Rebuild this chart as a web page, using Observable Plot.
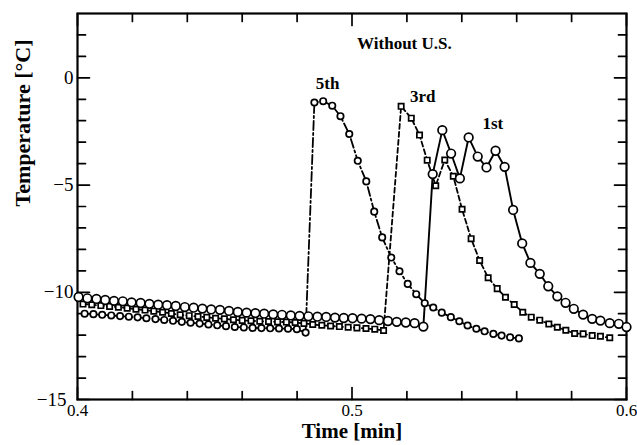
<!DOCTYPE html>
<html><head><meta charset="utf-8">
<script src="https://cdn.jsdelivr.net/npm/d3@7"></script>
<script src="https://cdn.jsdelivr.net/npm/@observablehq/plot@0.6"></script>
<style>body{margin:0;background:#fff}</style>
</head><body><div id="chart"></div>
<script>
// ---- data (time in min, temperature in °C) ----
const t1st = [0.4004,0.4036,0.4069,0.4101,0.4133,0.4165,0.4197,0.4230,0.4262,0.4294,0.4326,0.4358,0.4391,0.4423,0.4455,0.4487,0.4519,0.4552,0.4584,0.4616,0.4648,0.4680,0.4713,0.4745,0.4777,0.4809,0.4841,0.4874,0.4906,0.4938,0.4970,0.5002,0.5035,0.5067,0.5099,0.5131,0.5163,0.5196,0.5228,0.5260,
  0.5294,0.5329,0.5361,0.5393,0.5425,0.5458,0.5490,0.5523,0.5556,0.5587,0.5620,0.5650,0.5684,0.5715,0.5748,0.5778,0.5808,0.5842,0.5875,0.5905,0.5939,0.5972,0.6000];
const T1st = [-10.22,-10.28,-10.31,-10.36,-10.40,-10.42,-10.47,-10.50,-10.54,-10.58,-10.60,-10.64,-10.69,-10.72,-10.76,-10.80,-10.82,-10.87,-10.92,-10.95,-10.97,-11.00,-11.03,-11.05,-11.08,-11.10,-11.12,-11.14,-11.15,-11.18,-11.20,-11.21,-11.23,-11.25,-11.30,-11.34,-11.38,-11.41,-11.44,-11.60,
  -4.49,-2.44,-3.53,-4.69,-2.78,-3.67,-4.18,-3.40,-4.15,-6.16,-7.72,-8.63,-9.14,-9.72,-10.19,-10.49,-10.77,-11.04,-11.24,-11.32,-11.44,-11.47,-11.62];

const t3rd = [0.4020,0.4052,0.4085,0.4117,0.4149,0.4181,0.4213,0.4246,0.4278,0.4310,0.4342,0.4374,0.4407,0.4439,0.4471,0.4503,0.4535,0.4568,0.4600,0.4632,0.4664,0.4696,0.4729,0.4761,0.4793,0.4825,0.4857,0.4890,0.4922,0.4954,0.4986,0.5018,0.5051,0.5083,0.5115,
  0.5179,0.5216,0.5246,0.5274,0.5305,0.5338,0.5369,0.5401,0.5434,0.5465,0.5496,0.5529,0.5559,0.5591,0.5622,0.5653,0.5684,0.5717,0.5748,0.5779,0.5811,0.5842,0.5875,0.5905,0.5939];
const T3rd = [-10.55,-10.58,-10.62,-10.66,-10.70,-10.74,-10.79,-10.83,-10.88,-10.93,-10.99,-11.05,-11.09,-11.13,-11.17,-11.21,-11.24,-11.28,-11.31,-11.33,-11.35,-11.36,-11.38,-11.39,-11.41,-11.45,-11.50,-11.54,-11.57,-11.60,-11.63,-11.66,-11.69,-11.72,-11.78,
  -1.33,-1.88,-2.67,-3.84,-5.03,-3.83,-4.59,-6.13,-7.50,-8.52,-9.32,-9.83,-10.23,-10.57,-10.93,-11.16,-11.30,-11.48,-11.63,-11.77,-11.92,-11.94,-12.02,-12.05,-12.12];

const t5th = [0.4026,0.4058,0.4090,0.4123,0.4155,0.4187,0.4219,0.4251,0.4284,0.4316,0.4348,0.4380,0.4412,0.4445,0.4477,0.4509,0.4541,0.4573,0.4606,0.4638,0.4670,0.4702,0.4734,0.4767,0.4799,0.4831,
  0.4863,0.4895,0.4928,0.4958,0.4990,0.5021,0.5052,0.5081,0.5110,0.5143,0.5173,0.5203,0.5234,0.5265,0.5296,0.5327,0.5360,0.5391,0.5421,0.5453,0.5483,0.5515,0.5545,0.5576,0.5608];
const T5th = [-11.00,-11.02,-11.05,-11.08,-11.11,-11.14,-11.17,-11.21,-11.25,-11.29,-11.33,-11.38,-11.42,-11.46,-11.50,-11.54,-11.58,-11.62,-11.64,-11.66,-11.67,-11.68,-11.69,-11.70,-11.72,-11.88,
  -1.15,-1.09,-1.30,-1.79,-2.62,-3.87,-4.83,-6.24,-7.44,-8.38,-9.02,-9.61,-10.09,-10.51,-10.71,-10.95,-11.16,-11.35,-11.55,-11.70,-11.82,-11.94,-12.02,-12.10,-12.15];

const xMajor = [0.4, 0.5, 0.6];
const xMinor = [0.42, 0.44, 0.46, 0.48, 0.52, 0.54, 0.56, 0.58];
const yMajor = [-15, -10, -5, 0];
const yMinor = [-14, -13, -12, -11, -9, -8, -7, -6, -4, -3, -2, -1, 1, 2];

const noteText = ["Without U.S.", "5th", "3rd", "1st"];
const noteTime = [0.5191, 0.4911, 0.5258, 0.5513];
const noteTemp = [1.58, -0.28, -0.88, -2.14];

const xTitle = "Time [min]";
const yTitle = "Temperature [°C]";

// ---- build ----
const zip = (t, T) => t.map((d, i) => ({t: d, T: T[i]}));
const s1 = zip(t1st, T1st), s3 = zip(t3rd, T3rd), s5 = zip(t5th, T5th);
const notes = noteText.map((s, i) => ({s, t: noteTime[i], T: noteTemp[i]}));

const tickShape = {draw(context, l) { context.moveTo(0, 0); context.lineTo(0, -l); }};
const tk = (len) => ({shape: tickShape, anchor: "start", length: len, stroke: "black", strokeWidth: 1.7});
const font = "Liberation Serif, Times New Roman, serif";

const chart = Plot.plot({
  width: 637, height: 445,
  marginLeft: 77, marginRight: 11, marginTop: 13, marginBottom: 46,
  style: {fontFamily: font, background: "white", color: "black", overflow: "visible"},
  x: {domain: [0.4, 0.6]},
  y: {domain: [-15, 3]},
  marks: [
    // ticks (inward, all four sides)
    Plot.vectorX(xMajor, {x: d => d, frameAnchor: "bottom", rotate: 0, ...tk(12)}),
    Plot.vectorX(xMinor, {x: d => d, frameAnchor: "bottom", rotate: 0, ...tk(8)}),
    Plot.vectorX(xMajor, {x: d => d, frameAnchor: "top", rotate: 180, ...tk(12)}),
    Plot.vectorX(xMinor, {x: d => d, frameAnchor: "top", rotate: 180, ...tk(8)}),
    Plot.vectorY(yMajor, {y: d => d, frameAnchor: "left", rotate: 90, ...tk(12)}),
    Plot.vectorY(yMinor, {y: d => d, frameAnchor: "left", rotate: 90, ...tk(8)}),
    Plot.vectorY(yMajor, {y: d => d, frameAnchor: "right", rotate: -90, ...tk(12)}),
    Plot.vectorY(yMinor, {y: d => d, frameAnchor: "right", rotate: -90, ...tk(8)}),
    Plot.axisX({ticks: xMajor, tickSize: 0, tickPadding: 4, fontSize: 17, tickFormat: d3.format(".1f"), label: null}),
    Plot.axisY({ticks: yMajor.filter(d => d > -15), tickSize: 0, tickPadding: 4, fontSize: 19, label: null}),
    Plot.axisY({ticks: yMajor.filter(d => d === -15), tickSize: 0, tickPadding: 11, fontSize: 19, label: null}),
    Plot.frame({stroke: "black", strokeWidth: 2.2}),
    // series
    Plot.line(s3, {x: "t", y: "T", stroke: "black", strokeWidth: 1.8, strokeDasharray: "5,3"}),
    Plot.line(s5, {x: "t", y: "T", stroke: "black", strokeWidth: 1.8, strokeDasharray: "9,3,2,3"}),
    Plot.line(s1, {x: "t", y: "T", stroke: "black", strokeWidth: 1.9}),
    Plot.dot(s3, {x: "t", y: "T", symbol: "square", r: 3, fill: "white", stroke: "black", strokeWidth: 1.7}),
    Plot.dot(s5, {x: "t", y: "T", r: 3.2, fill: "white", stroke: "black", strokeWidth: 1.7}),
    Plot.dot(s1, {x: "t", y: "T", r: 4.3, fill: "white", stroke: "black", strokeWidth: 1.7}),
    // annotations
    Plot.text(notes, {x: "t", y: "T", text: "s", fontSize: 17, fontWeight: "bold", fill: "black"}),
    Plot.text([xTitle], {text: d => d, frameAnchor: "bottom", dy: 38.5, fontSize: 21, fontWeight: "bold", fill: "black"}),
    Plot.text([yTitle], {text: d => d, frameAnchor: "left", dx: -55, rotate: -90, fontSize: 22, fontWeight: "bold", fill: "black"})
  ]
});
document.getElementById("chart").appendChild(chart);
</script>
</body></html>
